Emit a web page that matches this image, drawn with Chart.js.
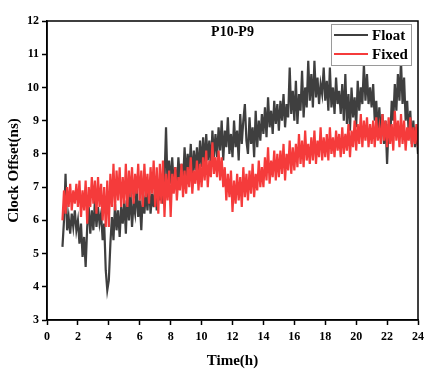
<!DOCTYPE html>
<html>
<head>
<meta charset="utf-8">
<script src="https://cdn.jsdelivr.net/npm/chart.js@4/dist/chart.umd.min.js"></script>
<style>
  body { margin: 0; background: #fff; }
  #wrap { width: 431px; height: 373px; }
</style>
</head>
<body>
<div id="wrap"><canvas id="offsetChart" width="431" height="373"></canvas></div>
<script>
// samples every 0.1 h from 1 h to 24 h
const startHour = 1;
const stepHour = 0.1;

const floatOffset = [
  5.2, 6.0, 7.4, 5.7, 6.1, 5.6, 6.2, 5.8, 6.3, 5.7,
  6.0, 5.3, 5.9, 4.9, 5.5, 4.6, 5.8, 6.4, 5.6, 6.3,
  5.7, 6.6, 5.8, 6.4, 5.9, 6.2, 5.4, 5.9, 4.5, 3.9,
  4.2, 5.3, 6.1, 5.4, 6.5, 5.7, 6.3, 5.5, 6.4, 5.9,
  6.6, 5.6, 6.8, 6.0, 6.9, 5.8, 6.5, 6.2, 7.0, 6.1,
  6.6, 5.7, 6.8, 6.2, 6.9, 6.3, 7.1, 6.2, 6.8, 6.4,
  7.0, 6.3, 7.2, 6.6, 7.3, 6.5, 7.2, 8.8, 7.0, 7.8,
  7.1, 7.9, 7.0, 7.6, 6.9, 7.9, 7.2, 7.7, 7.1, 8.2,
  7.3, 8.0, 7.4, 8.3, 7.2, 8.1, 7.5, 8.2, 7.4, 8.4,
  7.6, 8.5, 7.7, 8.6, 7.8, 8.4, 7.6, 8.7, 7.9, 8.6,
  7.9, 8.8, 8.1, 9.0, 7.8, 8.7, 8.2, 9.1, 8.0, 8.6,
  7.9, 9.0, 8.2, 8.7, 7.8, 9.2, 8.3, 9.0, 9.5, 8.4,
  8.0, 9.1, 8.3, 8.8, 7.9, 9.3, 8.2, 9.0, 8.4, 9.2,
  8.6, 9.4, 8.5, 9.7, 8.8, 9.3, 8.6, 9.6, 8.9, 9.5,
  8.7, 9.6, 9.0, 9.8, 8.8, 9.5, 9.1, 10.6, 9.2, 9.9,
  9.0, 10.2, 8.9, 9.8, 9.3, 10.5, 9.1, 10.0, 9.4, 10.8,
  9.6, 10.4, 9.4, 10.8, 9.7, 10.3, 9.5, 10.1, 9.8, 10.6,
  9.6, 10.2, 9.3, 10.6, 9.4, 10.0, 9.2, 10.3, 9.5, 9.9,
  9.2, 10.1, 9.0, 10.4, 8.9, 9.8, 8.7, 10.0, 9.1, 9.7,
  8.8, 10.2, 9.3, 10.0, 9.5, 10.7, 9.6, 10.4, 9.5, 10.0,
  9.4, 10.1, 9.0, 9.6, 8.7, 9.4, 8.5, 9.2, 8.3, 9.0,
  7.7, 8.9, 8.4, 9.6, 9.0, 10.1, 9.3, 10.4, 9.6, 10.8,
  9.5, 10.3, 9.0, 9.6, 8.6, 9.3, 8.3, 9.0, 8.2, 8.8,
  8.0
];

const fixedOffset = [
  6.0, 6.9, 6.2, 7.0, 6.4, 7.1, 6.3, 6.9, 6.5, 7.1,
  6.4, 7.2, 6.1, 6.9, 6.3, 7.2, 5.9, 7.0, 6.4, 7.3,
  6.5, 7.2, 6.2, 7.3, 6.4, 7.1, 6.0, 7.0, 5.8, 7.2,
  5.8, 7.4, 6.4, 7.7, 6.3, 7.5, 6.6, 7.6, 6.4, 7.3,
  6.5, 7.7, 6.4, 7.5, 6.7, 7.6, 6.5, 7.4, 6.8, 7.7,
  6.6, 7.5, 6.4, 7.7, 6.7, 7.4, 6.5, 7.6, 6.8, 7.8,
  6.4, 7.6, 6.2, 7.7, 6.5, 7.8, 6.1, 7.4, 6.6, 7.5,
  6.1, 7.4, 6.8, 7.6, 6.6, 7.3, 6.9, 7.7, 6.7, 7.5,
  6.8, 7.6, 7.0, 7.9, 6.8, 7.5, 7.1, 7.8, 6.9, 7.7,
  7.0, 7.9, 7.2, 8.1, 7.0, 7.8, 7.3, 8.35, 7.4, 7.9,
  7.3, 8.1, 7.2, 7.9, 7.0, 7.6, 6.6, 7.4, 6.7, 7.5,
  6.25, 7.2, 6.5, 7.4, 6.6, 7.3, 6.4, 7.6, 6.7, 7.4,
  6.6, 7.5, 6.8, 7.7, 6.7, 7.4, 6.9, 7.8, 7.0, 7.6,
  7.0, 7.9, 7.2, 8.2, 7.1, 7.8, 7.3, 8.1, 7.2, 8.0,
  7.3, 8.1, 7.4, 8.3, 7.2, 8.0, 7.5, 8.4, 7.4, 8.2,
  7.5, 8.3, 7.6, 8.6, 7.7, 8.4, 7.6, 8.7, 7.8, 8.3,
  7.7, 8.5, 7.8, 8.7, 7.7, 8.4, 7.9, 8.8, 7.8, 8.5,
  7.9, 8.6, 7.8, 8.8, 8.0, 8.5, 7.9, 8.7, 8.1, 8.6,
  7.9, 8.8, 8.0, 8.6, 8.1, 8.9, 7.9, 8.7, 8.2, 9.0,
  8.1, 8.9, 8.3, 9.2, 8.2, 9.0, 8.4, 9.1, 8.2, 8.9,
  8.3, 9.0, 8.2, 9.1, 8.4, 8.8, 8.3, 9.2, 8.4, 9.0,
  8.2, 9.1, 8.3, 8.9, 8.1, 9.3, 8.4, 9.0, 8.2, 9.2,
  8.3, 9.0, 8.1, 8.8, 8.4, 9.1, 8.2, 8.8, 8.3, 8.9,
  8.2
];

const seriesNames = ['Float', 'Fixed'];
const seriesColors = ['#3f3f3f', '#f53b3b'];
const chartTitle = 'P10-P9';

function toPoints(values) {
  return values.map((v, i) => ({ x: startHour + i * stepHour, y: v }));
}

const serif = "'Liberation Serif', 'Times New Roman', serif";

// frame, title and boxed legend
const decorations = {
  id: 'decorations',
  afterDatasetsDraw(chart) {
    const { ctx, chartArea: a } = chart;
    ctx.save();
    ctx.strokeStyle = '#000';
    ctx.lineWidth = 1.5;
    ctx.strokeRect(a.left, a.top, a.right - a.left, a.bottom - a.top);

    ctx.fillStyle = '#000';
    ctx.font = 'bold 14px ' + serif;
    ctx.textAlign = 'center';
    ctx.textBaseline = 'middle';
    ctx.fillText(chartTitle, (a.left + a.right) / 2, a.top + 11);

    const bx = 331, by = 24, bw = 80, bh = 41;
    ctx.fillStyle = '#fff';
    ctx.fillRect(bx, by, bw, bh);
    ctx.strokeStyle = '#9a9a9a';
    ctx.lineWidth = 1;
    ctx.strokeRect(bx + 0.5, by + 0.5, bw, bh);

    ctx.font = 'bold 15px ' + serif;
    ctx.textAlign = 'left';
    seriesNames.forEach((name, i) => {
      const y = by + 11 + i * 19;
      ctx.strokeStyle = seriesColors[i];
      ctx.lineWidth = 2;
      ctx.beginPath();
      ctx.moveTo(bx + 3, y);
      ctx.lineTo(bx + 37, y);
      ctx.stroke();
      ctx.fillStyle = '#000';
      ctx.fillText(name, bx + 41, y + 1);
    });
    ctx.restore();
  }
};

new Chart(document.getElementById('offsetChart'), {
  type: 'line',
  data: {
    datasets: [
      {
        label: seriesNames[0],
        data: toPoints(floatOffset),
        borderColor: seriesColors[0],
        borderWidth: 2.2,
        pointRadius: 0,
        tension: 0,
        order: 1
      },
      {
        label: seriesNames[1],
        data: toPoints(fixedOffset),
        borderColor: seriesColors[1],
        borderWidth: 2.2,
        pointRadius: 0,
        tension: 0,
        order: 0
      }
    ]
  },
  options: {
    responsive: false,
    animation: false,
    layout: { padding: { left: 1, right: 13, top: 21, bottom: 0 } },
    plugins: {
      legend: { display: false },
      tooltip: { enabled: false }
    },
    scales: {
      x: {
        type: 'linear',
        min: 0,
        max: 24,
        ticks: {
          stepSize: 2,
          color: '#000',
          padding: 5,
          maxRotation: 0,
          font: { family: serif, size: 12, weight: 'bold' }
        },
        grid: { drawOnChartArea: false, tickLength: 5, tickColor: '#000', tickWidth: 1.5 },
        border: { color: '#000', width: 1.5 },
        title: {
          display: true,
          text: 'Time(h)',
          color: '#000',
          padding: { top: 12, bottom: 3 },
          font: { family: serif, size: 15, weight: 'bold' }
        },
        afterFit(scale) { scale.height = 53; }
      },
      y: {
        min: 3,
        max: 12,
        ticks: {
          stepSize: 1,
          color: '#000',
          padding: 3,
          font: { family: serif, size: 12, weight: 'bold' }
        },
        grid: { drawOnChartArea: false, tickLength: 5, tickColor: '#000', tickWidth: 1.5 },
        border: { color: '#000', width: 1.5 },
        title: {
          display: true,
          text: 'Clock Offset(ns)',
          color: '#000',
          padding: { bottom: 4 },
          font: { family: serif, size: 15, weight: 'bold' }
        },
        afterFit(scale) { scale.width = 46; }
      }
    }
  },
  plugins: [decorations]
});
</script>
</body>
</html>
